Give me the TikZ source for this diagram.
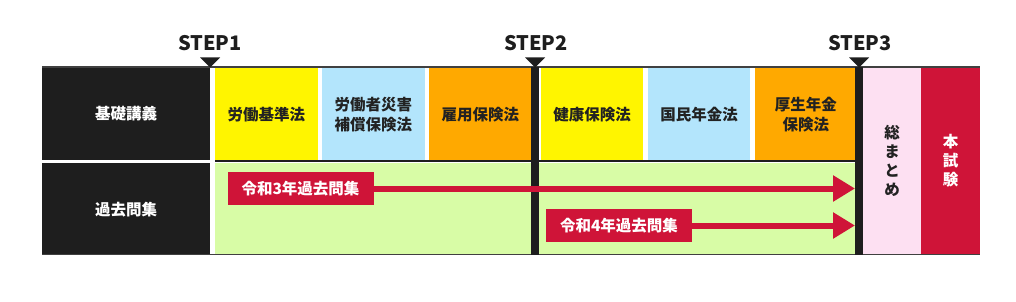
\documentclass[tikz,border=0pt]{standalone}
\usepackage{fontspec}
\setmainfont{Noto Sans CJK JP}
\usetikzlibrary{arrows.meta,positioning}
\definecolor{inkblack}{HTML}{1E1E1E}
\definecolor{textdark}{HTML}{222222}
\definecolor{lawyellow}{HTML}{FFF500}
\definecolor{lawblue}{HTML}{B3E5FC}
\definecolor{laworange}{HTML}{FFA900}
\definecolor{pastgreen}{HTML}{D8FCA6}
\definecolor{reviewpink}{HTML}{FDE0F2}
\definecolor{examred}{HTML}{CF1438}
\newcommand{\jpbold}{\fontsize{15.5pt}{20pt}\selectfont\bfseries}
\newcommand{\jpstack}{\fontsize{15.5pt}{19pt}\selectfont\bfseries}

\begin{document}
\begin{tikzpicture}[x=1pt,y=-1pt,
      node distance=4pt and 4pt,
      cell/.style={minimum width=102.5pt,minimum height=92pt,inner sep=0pt,align=center,font=\jpbold,text=textdark},
      head/.style={fill=inkblack,minimum width=168pt,inner sep=0pt,align=center,font=\jpbold,text=white,anchor=north west},
      column/.style={minimum height=187pt,inner sep=0pt,align=center,font=\jpstack,anchor=north west},
      steplabel/.style={font=\fontsize{20pt}{20pt}\selectfont\bfseries,text=inkblack,anchor=base},
      stepline/.style={inkblack,line width=8pt},
      yearbox/.style={fill=examred,text=white,font=\jpbold,minimum width=146pt,minimum height=33pt,inner sep=0pt},
      arr/.style={-{Triangle[length=22pt,width=25pt]},line width=6pt,examred}
    ]
    \useasboundingbox (0,0) rectangle (1016,302);
    \node[head,minimum height=93pt] (basic) at (42,67) {基礎講義};
    \node[head,minimum height=92pt] (past) at (42,163) {過去問集};
    \node[cell,fill=lawyellow,anchor=north west] (labstd) at (215,68) {労働基準法};
    \node[cell,fill=lawblue,right=of labstd] (workcomp) {労働者災害\\補償保険法};
    \node[cell,fill=laworange,right=of workcomp] (employ) {雇用保険法};
    \node[cell,fill=lawyellow,right=9pt of employ] (health) {健康保険法};
    \node[cell,fill=lawblue,right=of health] (pension) {国民年金法};
    \node[cell,fill=laworange,right=of pension] (welfare) {厚生年金\\保険法};
    \node[column,fill=reviewpink,text=textdark,minimum width=58pt] (review) at (863,67) {総\\ま\\と\\め};
    \node[column,fill=examred,text=white,minimum width=59pt] (exam) at (921,67) {本\\試\\験};
    \fill[pastgreen] (215,162.5) rectangle (531,254);
    \fill[pastgreen] (539,162.5) rectangle (856,254);
    \draw[inkblack,line width=2pt] (215,161) -- (856,161);
    \draw[inkblack!85,line width=1.2pt] (42,67) -- (980,67);
    \draw[inkblack!85,line width=1.2pt] (42,254.5) -- (980,254.5);
    \draw[stepline] (535,67) -- (535,255);
    \draw[stepline] (859,67) -- (859,255);
    \fill[inkblack] (200,57.5) -- (220,57.5) -- (210,67.5) -- cycle;
    \fill[inkblack] (525,57.5) -- (545,57.5) -- (535,67.5) -- cycle;
    \fill[inkblack] (849,57.5) -- (869,57.5) -- (859,67.5) -- cycle;
    \node[steplabel] (step1) at (210,50.5) {STEP1};
    \node[steplabel] (step2) at (536,50.5) {STEP2};
    \node[steplabel] (step3) at (860,50.5) {STEP3};
    \node[yearbox] (year3) at (300.5,188.5) {令和3年過去問集};
    \node[yearbox] (year4) at (619,225.5) {令和4年過去問集};
    \coordinate (goal3) at (855,188.5);
    \coordinate (goal4) at (855,225.5);
    \draw[arr] (year3.east) -- (goal3);
    \draw[arr] (year4.east) -- (goal4);
  \end{tikzpicture}
\end{document}
